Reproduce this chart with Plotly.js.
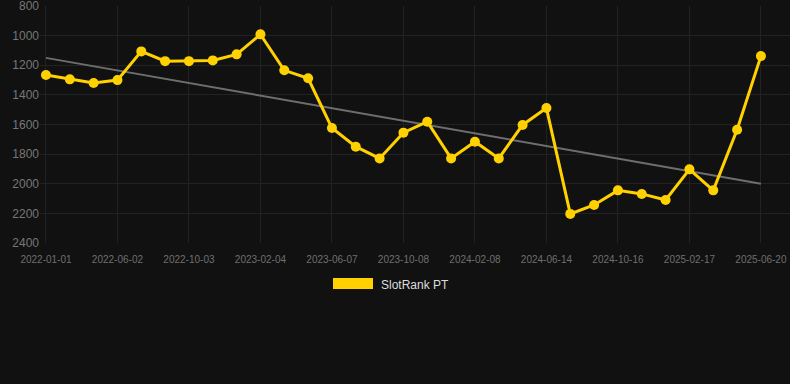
<!DOCTYPE html>
<html>
<head>
<meta charset="utf-8">
<script src="https://cdn.plot.ly/plotly-3.0.1.min.js"></script>
<style>
html,body{margin:0;padding:0;background:#111111;}
#chart{width:790px;height:384px;}
</style>
</head>
<body>
<div id="chart"></div>
<script>
const dates = [
  "2022-01-01","2022-02-20","2022-04-11","2022-06-02","2022-07-13","2022-08-23",
  "2022-10-03","2022-11-13","2022-12-25","2023-02-04","2023-03-17","2023-04-27",
  "2023-06-07","2023-07-18","2023-08-28","2023-10-08","2023-11-18","2023-12-29",
  "2024-02-08","2024-03-20","2024-05-02","2024-06-14","2024-07-25","2024-09-04",
  "2024-10-16","2024-11-26","2025-01-06","2025-02-17","2025-03-30","2025-05-10",
  "2025-06-20"
];
const rank = [
  1266, 1295, 1320, 1300, 1106, 1172, 1172, 1167, 1126, 991,
  1234, 1288, 1624, 1750, 1829, 1655, 1581, 1829, 1716, 1829,
  1603, 1489, 2204, 2144, 2045, 2069, 2110, 1903, 2045, 1635,
  1138
];
const tickLabels = [
  "2022-01-01","2022-06-02","2022-10-03","2023-02-04","2023-06-07","2023-10-08",
  "2024-02-08","2024-06-14","2024-10-16","2025-02-17","2025-06-20"
];
const yTicks = [800, 1000, 1200, 1400, 1600, 1800, 2000, 2200, 2400];
const trendX = ["2022-01-01","2025-06-20"];
const trendY = [1150, 2000];
const seriesName = "SlotRank PT";

const yellow = "#FFD100";
const font = "Liberation Sans, Arial, Helvetica, sans-serif";

const traces = [
  {
    x: trendX, y: trendY, type: "scatter", mode: "lines",
    line: {color: "#6e6e6e", width: 2}, showlegend: false, hoverinfo: "skip"
  },
  {
    x: dates, y: rank, type: "scatter", mode: "lines+markers", name: seriesName,
    line: {color: yellow, width: 3},
    marker: {color: yellow, size: 10},
    showlegend: false, cliponaxis: false
  }
];

const layout = {
  width: 790, height: 384,
  paper_bgcolor: "#111111", plot_bgcolor: "#111111",
  margin: {l: 40, r: 0, t: 6, b: 141},
  font: {family: font, color: "#777777"},
  xaxis: {
    type: "category",
    categoryorder: "array", categoryarray: dates,
    range: [-0.25, 31.22],
    tickmode: "array", tickvals: tickLabels, ticktext: tickLabels,
    tickfont: {size: 10, color: "#6f6f6f"},
    ticklabelstandoff: 9,
    showgrid: true, gridcolor: "#222222", gridwidth: 1,
    zeroline: false, showline: false, ticks: ""
  },
  yaxis: {
    range: [2400.6, 799.4],
    tickmode: "array", tickvals: yTicks, ticktext: yTicks.map(String),
    tickfont: {size: 12, color: "#777777"},
    ticklabeloverflow: "allow",
    showgrid: true, gridcolor: "#222222", gridwidth: 1,
    zeroline: false, showline: false, ticks: ""
  },
  shapes: [
    {type: "rect", xref: "paper", yref: "paper",
     x0: (333-40)/750, x1: (373-40)/750,
     y0: (243-278)/237, y1: (243-289)/237,
     fillcolor: yellow, line: {width: 0}}
  ],
  annotations: [
    {xref: "paper", yref: "paper", x: (379-40)/750, y: (243-284.5)/237,
     xanchor: "left", yanchor: "middle", showarrow: false,
     text: seriesName, font: {size: 12, color: "#dddddd", family: font}}
  ],
  showlegend: false
};

Plotly.newPlot("chart", traces, layout, {displayModeBar: false, staticPlot: true});
</script>
</body>
</html>
